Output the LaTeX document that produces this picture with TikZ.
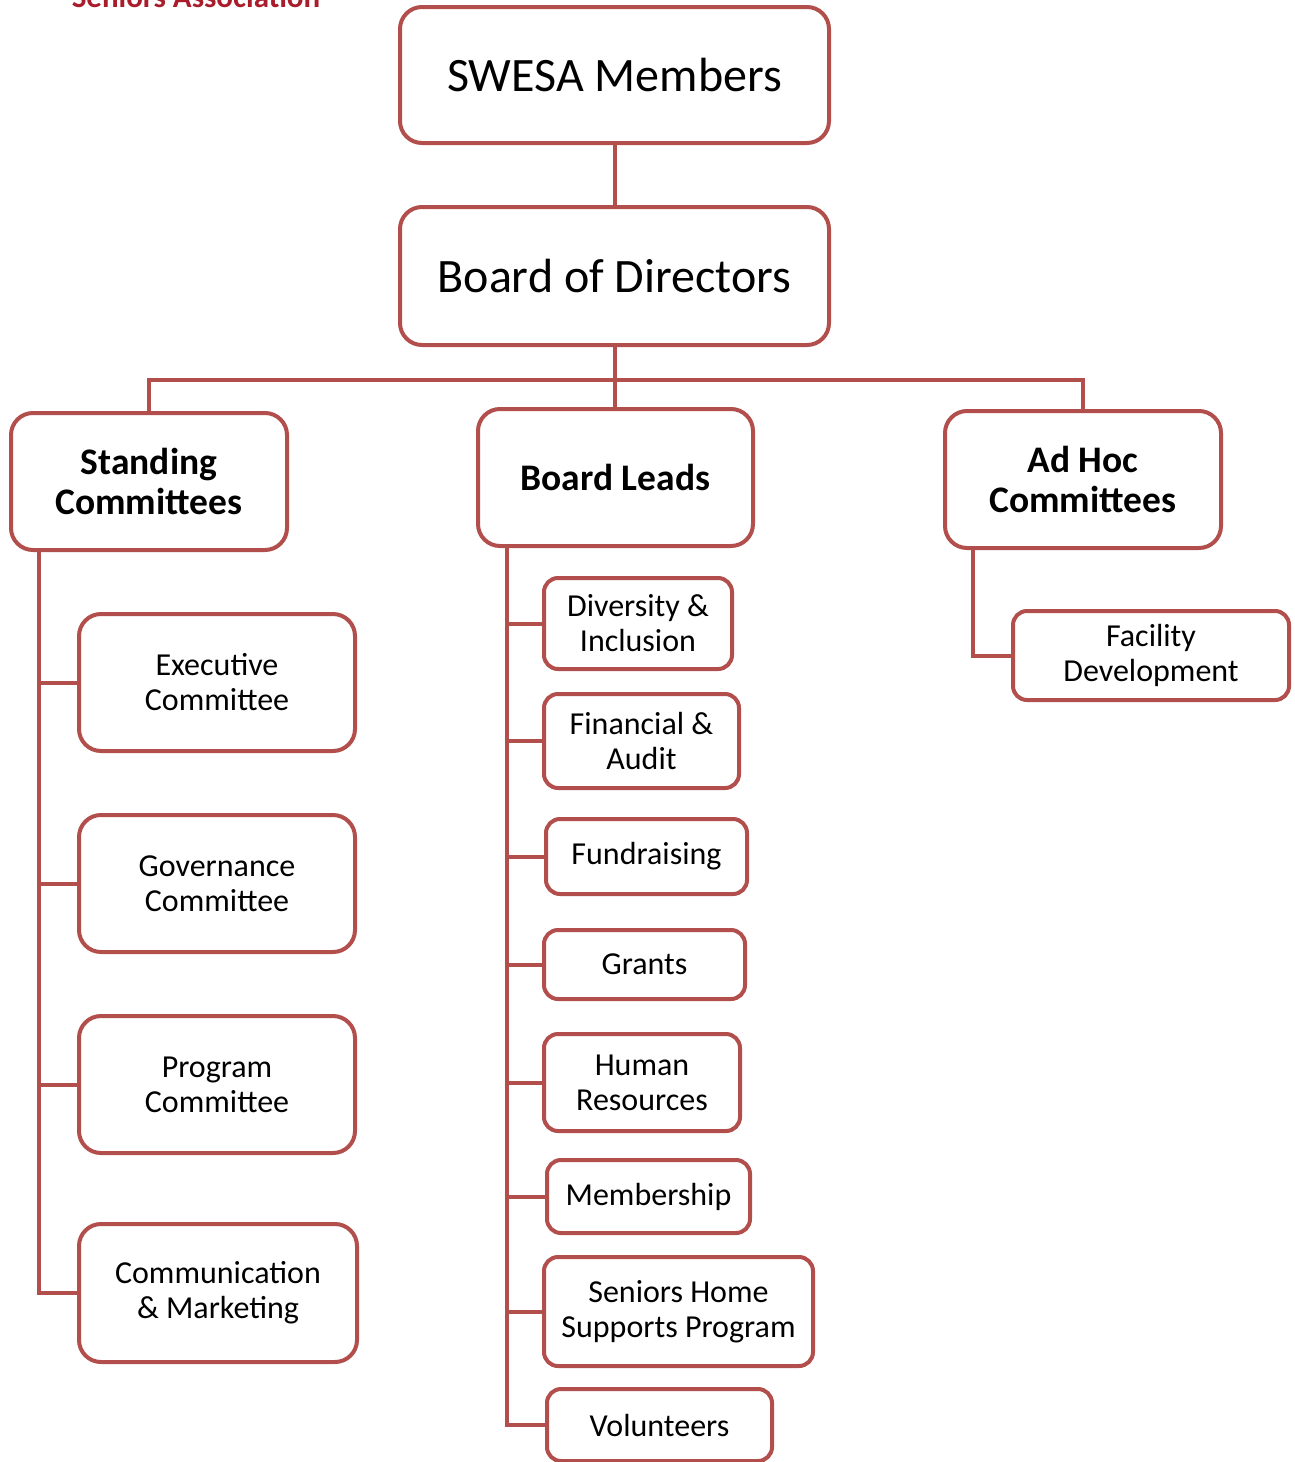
\documentclass[tikz,border=0pt]{standalone}
\usepackage{fontspec}
\setmainfont{Carlito}
\definecolor{edge}{RGB}{178,78,76}
\definecolor{titlered}{RGB}{168,28,44}
\begin{document}
\begin{tikzpicture}[x=1pt,y=-1pt,
  box/.style={draw=edge, line width=4pt, fill=white, rounded corners=22pt, align=center, inner sep=0pt, outer sep=0pt, anchor=north west},
  sbox/.style={box, rounded corners=14pt},
  big/.style={font=\fontsize{48}{56}\selectfont},
  mid/.style={font=\bfseries\fontsize{37.5}{40}\selectfont},
  small/.style={font=\fontsize{32}{35}\selectfont},
  conn/.style={draw=edge, line width=4pt}]
\useasboundingbox (0,0) rectangle (1294,1462);
\node[anchor=base, text=titlered, font=\bfseries\fontsize{31}{36}\selectfont] (title) at (196,7) {Seniors Association};

\node[box, big, minimum width=429pt, minimum height=136pt] (swesa) at (400,7) {SWESA Members};
\node[box, big, minimum width=429pt, minimum height=138pt] (board) at (400,207) {Board of Directors};

\node[box, mid, minimum width=276pt, minimum height=137pt] (standing) at (11,413) {Standing\\Committees};
\node[box, mid, minimum width=275pt, minimum height=137pt] (leads) at (478,409) {Board Leads};
\node[box, mid, minimum width=276pt, minimum height=137pt] (adhoc) at (945,411) {Ad Hoc\\Committees};

\node[box, small, minimum width=276pt, minimum height=137pt] (exec) at (79,614) {Executive\\Committee};
\node[box, small, minimum width=276pt, minimum height=137pt] (gov) at (79,815) {Governance\\Committee};
\node[box, small, minimum width=276pt, minimum height=137pt] (prog) at (79,1016) {Program\\Committee};
\node[box, small, minimum width=278pt, minimum height=138pt] (comm) at (79,1224) {Communication\\\& Marketing};

\node[sbox, small, minimum width=188pt, minimum height=91pt] (div) at (544,578) {Diversity \&\\Inclusion};
\node[sbox, small, minimum width=195pt, minimum height=94pt] (fin) at (544,694) {Financial \&\\Audit};
\node[sbox, small, minimum width=201pt, minimum height=75pt] (fund) at (546,819) {Fundraising};
\node[sbox, small, minimum width=201pt, minimum height=69pt] (grants) at (544,930) {Grants};
\node[sbox, small, minimum width=196pt, minimum height=97pt] (hr) at (544,1034) {Human\\Resources};
\node[sbox, small, minimum width=203pt, minimum height=73pt] (memb) at (547,1160) {Membership};
\node[sbox, small, minimum width=269pt, minimum height=109pt] (shsp) at (544,1257) {Seniors Home\\Supports Program};
\node[sbox, small, minimum width=225pt, minimum height=72pt] (vol) at (547,1389) {Volunteers};

\node[sbox, small, minimum width=276pt, minimum height=89pt] (fac) at (1013,611) {Facility\\Development};

% connectors
\draw[conn] (swesa.south) -- (board.north);
\coordinate (bus) at ([yshift=-35pt]board.south);
\draw[conn] (board.south) -- (bus) -- (leads.north -| bus);
\draw[conn] (bus) -| (standing.north);
\draw[conn] (bus) -| (adhoc.north);

\coordinate (sst) at ([xshift=28pt]standing.south west);
\draw[conn] (sst) |- (comm.west);
\draw[conn] (sst |- exec.west) -- (exec.west);
\draw[conn] (sst |- gov.west) -- (gov.west);
\draw[conn] (sst |- prog.west) -- (prog.west);

\coordinate (lst) at ([xshift=29pt]leads.south west);
\draw[conn] (lst) |- (vol.west);
\foreach \n in {div,fin,fund,grants,hr,memb,shsp}
  \draw[conn] (lst |- \n.west) -- (\n.west);

\coordinate (ast) at ([xshift=28pt]adhoc.south west);
\draw[conn] (ast) |- (fac.west);
\end{tikzpicture}
\end{document}
